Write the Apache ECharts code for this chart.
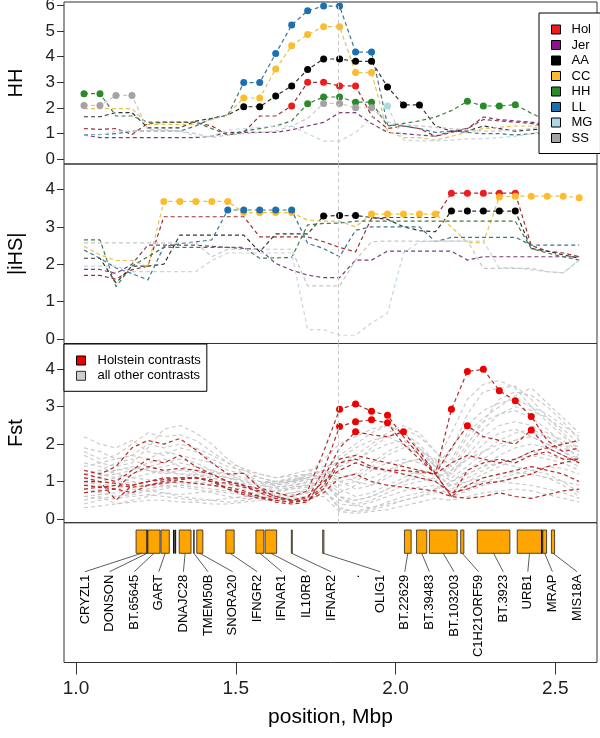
<!DOCTYPE html>
<html><head><meta charset="utf-8">
<script src="https://cdn.jsdelivr.net/npm/echarts@6/dist/echarts.min.js"></script>
<style>html,body{margin:0;padding:0;background:#fff}#c{width:600px;height:738px}</style>
</head><body><div id="c"></div>
<script>
// ---------- window centres (Mbp) ----------
const positions = [1.025,1.075,1.125,1.175,1.225,1.275,1.325,1.375,1.425,1.475,1.525,1.575,1.625,1.675,1.725,1.775,1.825,1.875,1.925,1.975,2.025,2.075,2.125,2.175,2.225,2.275,2.325,2.375,2.425,2.475,2.525,2.575];
const focusPos = 1.818;

// ---------- HH panel ----------
const hhHol = [1.2,1.17,1.2,0.97,1.4,1.44,1.44,1.44,1.3,0.95,1.05,1.69,1.69,2.08,3.0,3.0,2.86,2.86,1.7,1.2,1.3,1.2,0.9,1.1,1.2,1.55,1.5,1.45,1.4,1.3,1.35,1.3];
const hhJer = [0.95,0.85,0.85,0.85,0.85,0.85,0.85,0.85,0.9,1.05,1.05,1.05,1.05,1.15,1.3,1.44,1.82,1.82,1.4,1.05,1.0,0.95,0.9,1.05,1.2,1.65,1.55,1.5,1.45,1.35,1.3,1.25];
const hhAA  = [1.66,1.66,1.82,1.82,1.23,1.23,1.23,1.49,1.6,1.73,2.05,2.05,2.47,2.86,3.5,3.91,3.91,3.82,3.82,2.82,2.12,2.12,1.3,1.1,1.1,1.3,1.2,1.1,1.15,1.2,1.3,1.35];
const hhCC  = [1.98,1.98,1.98,1.98,1.36,1.36,1.36,1.36,1.55,1.75,2.39,2.39,3.52,4.43,4.86,5.17,5.17,3.38,3.38,1.1,0.85,0.85,0.75,0.9,1.05,1.2,1.25,1.3,1.3,1.35,1.3,1.3];
const hhHH  = [2.56,2.56,1.69,1.69,1.45,1.45,1.45,1.45,1.2,0.95,1.1,1.2,1.3,1.5,2.17,2.43,2.43,2.23,2.23,1.3,1.4,1.5,1.65,1.9,2.26,2.08,2.08,2.13,1.8,1.5,1.4,1.4];
const hhLL  = [0.97,0.97,1.0,1.1,1.1,1.1,1.1,1.3,1.6,1.72,2.99,2.99,4.12,5.23,5.79,5.97,5.97,4.18,4.18,1.35,1.3,1.2,1.05,1.1,1.05,1.0,1.0,0.95,1.0,1.05,1.1,1.15];
const hhMG  = [0.95,0.95,1.1,1.1,1.1,1.1,1.1,0.9,0.9,1.15,1.2,1.25,1.3,1.3,1.0,0.71,0.71,1.05,1.6,2.08,0.75,0.72,0.72,0.75,0.8,0.8,0.85,0.9,1.0,1.1,1.2,1.25];
const hhSS  = [2.1,2.1,2.49,2.49,1.15,1.15,1.1,1.0,0.85,0.95,1.0,1.05,1.1,1.3,1.6,2.18,2.18,2.01,2.01,1.45,1.35,1.3,1.25,1.2,1.15,1.1,1.1,1.15,1.2,1.3,1.35,1.4];
const hhSigHol = [13,14,15,16,17];
const hhSigJer = [];
const hhSigAA  = [10,11,12,13,14,15,16,17,18,19,20,21];
const hhSigCC  = [10,11,12,13,14,15,16,17,18];
const hhSigHH  = [0,1,14,15,16,17,18,24,25,26,27];
const hhSigLL  = [10,11,12,13,14,15,16,17,18];
const hhSigMG  = [19];
const hhSigSS  = [0,1,2,3,15,16,17,18];

// ---------- |iHS| panel ----------
const ihsHol = [1.7,1.7,1.6,1.85,1.95,3.27,3.27,3.27,3.27,3.27,3.27,2.73,2.73,2.73,2.73,2.6,2.45,2.33,3.23,3.25,3.25,3.25,3.25,3.9,3.9,3.9,3.9,3.9,2.5,2.35,2.3,2.2];
const ihsJer = [1.86,1.86,1.75,2.0,2.51,2.51,2.51,2.51,2.48,2.45,2.42,2.4,2.02,1.84,1.71,1.64,1.64,2.11,2.11,2.35,2.35,2.35,2.35,2.35,2.11,2.2,2.2,2.2,2.2,2.2,2.2,2.2];
const ihsAA  = [2.16,2.16,1.5,1.95,1.95,2.0,2.78,2.78,2.78,2.78,2.78,2.33,2.81,2.81,2.81,3.29,3.3,3.3,3.25,3.2,3.0,2.9,2.87,3.42,3.42,3.42,3.42,3.42,2.42,2.35,2.25,2.16];
const ihsCC  = [2.48,2.25,2.1,2.1,1.93,3.68,3.68,3.68,3.68,3.68,3.38,3.38,3.38,3.38,3.18,3.15,3.15,3.0,3.34,3.34,3.34,3.34,3.34,3.0,2.58,2.58,3.8,3.82,3.82,3.82,3.82,3.78];
const ihsHH  = [2.65,2.65,1.4,1.95,2.2,2.45,2.45,2.45,2.45,2.45,2.45,2.16,2.17,2.18,3.05,3.09,3.1,3.15,3.15,3.15,3.15,3.15,3.15,3.15,3.15,3.15,3.15,3.15,2.42,2.3,2.2,2.11];
const ihsLL  = [2.38,2.16,1.9,1.75,1.58,2.47,2.55,2.6,2.65,3.45,3.45,3.45,3.45,3.45,2.56,2.42,2.2,2.91,3.0,3.0,3.0,3.0,2.6,2.72,2.72,2.72,2.72,2.72,2.51,2.51,2.51,2.51];
const ihsMG  = [1.95,1.95,1.95,1.8,1.8,1.8,1.8,1.8,2.1,2.3,2.3,2.3,2.3,2.3,0.25,0.25,0.1,0.1,0.43,0.69,2.3,2.6,2.62,2.62,2.62,2.62,1.9,1.9,1.85,1.8,1.77,2.11];
const ihsSS  = [2.57,2.57,2.57,2.57,2.57,2.57,2.57,2.57,2.2,2.4,2.4,2.4,2.4,2.4,1.42,1.42,1.42,2.11,2.6,2.62,2.62,2.62,2.62,2.62,2.62,1.89,1.89,1.89,1.89,1.8,1.77,2.11];
const ihsSigHol = [23,24,25,26,27];
const ihsSigJer = [];
const ihsSigAA  = [15,16,17,23,24,25,26,27];
const ihsSigCC  = [5,6,7,8,9,10,11,12,13,18,19,20,21,22,26,27,28,29,30,31];
const ihsSigHH  = [];
const ihsSigLL  = [9,10,11,12,13];
const ihsSigMG  = [];
const ihsSigSS  = [];

// ---------- Fst panel: Holstein contrasts ----------
const fstHol1 = [1.3,1.2,1.4,1.9,2.1,2.0,2.15,1.85,1.5,1.2,1.22,0.83,0.7,0.6,0.75,1.8,2.93,3.07,2.88,2.77,2.2,1.7,1.2,2.93,3.94,4.0,3.43,3.16,2.74,2.1,1.8,1.9];
const fstHol2 = [0.9,0.85,0.8,1.2,1.4,1.3,1.35,1.3,1.2,1.0,0.9,0.8,0.6,0.5,0.55,1.3,2.47,2.6,2.65,2.57,2.0,1.6,1.2,1.9,2.49,2.2,2.1,2.0,2.38,1.9,1.7,1.5];
const fstHol3 = [1.0,1.0,0.95,0.9,1.0,1.05,1.1,1.1,1.05,0.8,0.7,0.6,0.45,0.4,0.45,1.1,1.9,2.33,2.25,2.2,2.33,1.8,1.22,0.6,1.3,1.5,1.6,1.5,1.7,1.8,1.6,1.6];
const fstHol4 = [1.1,1.0,0.5,0.9,1.0,1.1,1.1,1.1,1.0,0.95,0.85,0.75,0.6,0.5,0.5,0.9,1.6,1.7,1.6,1.5,1.4,1.3,1.2,1.5,1.7,1.6,1.5,1.6,1.8,1.9,2.0,2.1];
const fstHol5 = [0.8,0.85,0.9,0.85,0.9,1.0,1.05,1.1,1.0,0.8,0.65,0.55,0.5,0.45,0.5,0.8,1.5,1.6,1.4,1.3,1.3,1.25,1.2,0.6,0.9,1.1,1.2,1.3,1.4,1.3,1.2,1.0];
const fstHol6 = [1.2,1.1,1.0,1.3,1.6,1.5,1.7,1.4,1.2,1.0,0.9,0.7,0.55,0.5,0.6,1.0,1.3,1.5,1.35,1.3,1.2,1.1,1.0,0.7,0.8,0.95,1.0,1.1,1.2,1.4,1.5,1.6];
const fstHol7 = [0.7,0.75,0.8,0.7,0.9,0.95,1.0,0.95,0.9,0.85,0.75,0.6,0.5,0.45,0.5,0.7,1.1,1.2,1.0,0.9,0.85,0.8,0.75,0.6,0.55,0.6,0.7,0.6,0.55,0.65,0.75,0.8];
const fstSig1 = [16,17,18,19,23,24,25,26,27,28];
const fstSig2 = [16,17,18,19,24,28];
const fstSig3 = [17,20];

// ---------- Fst panel: all other contrasts ----------
const fstOther1  = [1.8,1.6,1.7,2.0,2.3,2.2,2.25,2.1,1.8,1.5,1.2,1.0,0.9,1.0,1.2,1.6,2.0,2.2,2.4,2.5,2.3,2.0,1.5,2.3,3.2,3.6,3.7,3.5,3.0,2.6,2.2,1.9];
const fstOther2  = [1.2,1.3,1.5,1.6,1.4,1.5,1.6,1.5,1.3,1.1,0.9,0.8,0.85,0.9,1.0,1.2,1.6,1.9,2.1,2.2,2.0,1.7,1.3,1.8,2.8,3.4,3.5,3.55,3.2,2.7,2.3,1.8];
const fstOther3  = [0.5,0.6,0.4,0.5,0.6,0.7,0.6,0.55,0.5,0.45,0.5,0.55,0.6,0.7,0.8,0.9,0.6,0.35,0.3,0.4,0.5,0.6,0.8,1.0,1.2,1.4,1.5,1.4,1.3,1.2,1.0,0.7];
const fstOther4  = [1.0,0.9,0.95,1.1,1.2,1.3,1.2,1.15,1.1,1.0,0.95,0.9,0.95,1.0,1.1,1.3,1.2,1.0,0.9,1.1,1.3,1.2,1.0,1.5,2.2,2.6,2.8,2.9,2.7,2.4,2.0,1.6];
const fstOther5  = [0.8,0.7,0.6,0.65,0.75,0.8,0.9,0.85,0.8,0.75,0.7,0.7,0.75,0.85,0.9,1.0,0.5,0.4,0.5,0.7,0.9,1.0,1.1,1.3,1.6,1.8,2.0,2.1,2.2,2.0,1.8,1.5];
const fstOther6  = [1.5,1.4,1.2,1.3,1.5,1.6,1.4,1.3,1.25,1.2,1.1,1.0,0.95,1.0,1.1,1.2,1.4,1.6,1.8,2.0,2.1,1.8,1.4,1.2,1.7,2.2,2.5,2.6,2.5,2.3,2.1,1.8];
const fstOther7  = [0.6,0.65,0.7,0.8,0.75,0.7,0.65,0.7,0.75,0.7,0.65,0.6,0.65,0.7,0.75,0.8,0.3,0.2,0.3,0.45,0.6,0.7,0.8,0.9,1.0,1.1,1.2,1.25,1.2,1.1,0.9,0.6];
const fstOther8  = [1.3,1.2,1.1,1.2,1.35,1.4,1.5,1.4,1.3,1.2,1.0,0.95,1.0,1.1,1.2,1.3,1.0,0.8,0.9,1.2,1.5,1.6,1.4,1.9,2.5,2.9,3.1,3.2,3.0,2.8,2.5,2.2];
const fstOther9  = [2.2,2.0,1.9,2.1,1.8,1.7,1.9,1.8,1.6,1.4,1.3,1.2,1.1,1.15,1.2,1.3,1.1,1.2,1.5,1.8,2.0,1.9,1.5,1.1,1.4,1.8,2.1,2.3,2.4,2.2,1.9,1.7];
const fstOther10 = [0.9,1.0,1.1,1.0,0.9,1.0,1.1,1.2,1.1,1.0,0.9,0.8,0.8,0.85,0.9,1.1,0.8,0.6,0.7,0.9,1.1,1.3,1.2,0.9,1.1,1.3,1.5,1.6,1.7,1.6,1.5,1.3];
const fstOther11 = [0.4,0.5,0.55,0.6,0.65,0.6,0.55,0.5,0.5,0.55,0.6,0.6,0.55,0.6,0.7,0.8,0.25,0.2,0.25,0.35,0.5,0.6,0.7,0.75,0.9,1.0,1.0,0.95,0.9,0.8,0.7,0.55];
const fstOther12 = [1.7,1.5,1.4,1.5,1.9,2.4,2.5,2.3,2.0,1.6,1.3,1.1,1.0,1.05,1.15,1.3,1.7,2.0,2.3,2.5,2.3,1.9,1.4,1.6,2.3,2.7,3.0,3.3,3.5,3.1,2.7,2.3];
const fstOther13 = [1.1,1.15,1.2,1.1,1.05,1.0,0.95,1.0,0.95,0.9,0.85,0.85,0.9,0.95,1.05,1.15,0.9,1.0,1.3,1.5,1.6,1.5,1.3,1.0,1.2,1.4,1.7,1.9,2.0,1.9,1.7,1.5];
const fstOther14 = [0.7,0.8,0.9,1.0,0.9,0.85,0.9,0.95,0.9,0.8,0.7,0.65,0.7,0.8,0.85,0.95,0.5,0.5,0.6,0.8,1.0,1.1,1.0,0.7,0.8,1.0,1.1,1.2,1.3,1.4,1.35,1.2];
const fstOther15 = [1.4,1.5,1.6,1.7,1.6,1.8,1.7,1.6,1.5,1.3,1.2,1.1,1.0,1.0,1.05,1.1,1.3,1.5,1.9,2.2,2.4,2.2,1.8,1.3,1.9,2.4,2.8,3.0,2.9,2.7,2.4,2.0];
const fstOther16 = [0.6,0.55,0.6,0.7,0.8,0.9,0.85,0.8,0.7,0.6,0.55,0.55,0.6,0.65,0.7,0.75,0.4,0.35,0.45,0.6,0.75,0.85,0.9,0.6,0.75,0.9,1.0,1.1,1.2,1.1,1.0,0.9];
const fstOther17 = [1.0,1.1,1.3,1.4,1.3,1.2,1.3,1.25,1.2,1.1,1.0,0.9,0.85,0.9,0.95,1.05,0.7,0.9,1.1,1.3,1.5,1.6,1.5,1.2,1.6,2.0,2.3,2.4,2.2,2.0,1.8,1.6];
const fstOther18 = [0.3,0.35,0.4,0.45,0.5,0.5,0.45,0.45,0.4,0.4,0.45,0.5,0.5,0.55,0.6,0.6,0.2,0.15,0.2,0.25,0.35,0.45,0.55,0.5,0.6,0.7,0.75,0.8,0.75,0.65,0.55,0.45];
const fstOther19 = [1.9,1.8,1.6,1.7,2.0,1.9,2.0,1.9,1.7,1.5,1.35,1.2,1.1,1.2,1.3,1.4,1.5,1.7,2.0,2.3,2.5,2.3,1.8,1.4,2.0,2.6,3.2,3.4,3.3,3.0,2.6,2.1];
const fstOther20 = [0.9,0.85,0.8,0.9,1.0,1.1,1.0,0.95,0.9,0.85,0.8,0.75,0.75,0.8,0.9,1.0,0.6,0.5,0.6,0.8,1.0,1.2,1.3,0.8,1.0,1.2,1.4,1.6,1.8,1.7,1.6,1.4];
const fstOther21 = [1.2,1.25,1.3,1.35,1.3,1.25,1.2,1.2,1.15,1.1,1.05,1.0,1.0,1.05,1.1,1.2,1.0,1.1,1.4,1.7,1.9,1.8,1.6,1.0,1.3,1.6,1.9,2.1,2.3,2.2,2.0,1.8];

// ---------- genes ----------
const geneLabels = ['CRYZL1','DONSON','BT.65645','GART','DNAJC28','TMEM50B','SNORA20','IFNGR2','IFNAR1','IL10RB','IFNAR2','.','OLIG1','BT.22629','BT.39483','BT.103203','C1H21ORF59','BT.3923','URB1','MRAP','MIS18A'];
const geneStart = [1.188,1.221,1.225,1.266,1.323,1.368,1.378,1.469,1.563,1.592,1.674,null,1.772,2.028,2.066,2.106,2.204,2.256,2.381,2.461,2.488];
const geneEnd   = [1.223,1.224,1.263,1.292,1.360,1.370,1.397,1.495,1.588,1.628,1.677,null,1.776,2.049,2.098,2.193,2.214,2.358,2.458,2.473,2.498];
const extraGeneStart = [1.305,1.310,2.457];
const extraGeneEnd   = [1.306,1.311,2.459];

// ---------- tick labels ----------
const xTicks = [1.0,1.5,2.0,2.5];
const hhTicks = [0,1,2,3,4,5,6];
const ihsTicks = [0,1,2,3,4];
const fstTicks = [0,1,2,3,4];

// ---------- styling ----------
const FONT = "'Liberation Sans', Arial, sans-serif";
const pops = ['Hol','Jer','AA','CC','HH','LL','MG','SS'];
const pointColors = ['#ee1c1c','#8b138b','#000000','#fbbd2e','#2a8a2a','#1a70b0','#add8e6','#a3a3a3'];
const lineColors  = ['#9b3030','#7a3c7a','#333333','#e6c24e','#3f7f45','#3a7790','#c2d8e2','#c6c6c6'];
const X0 = 0.9624, X1 = 2.6307;

const hhLines = [hhHol,hhJer,hhAA,hhCC,hhHH,hhLL,hhMG,hhSS];
const hhSigs  = [hhSigHol,hhSigJer,hhSigAA,hhSigCC,hhSigHH,hhSigLL,hhSigMG,hhSigSS];
const ihsLines = [ihsHol,ihsJer,ihsAA,ihsCC,ihsHH,ihsLL,ihsMG,ihsSS];
const ihsSigs  = [ihsSigHol,ihsSigJer,ihsSigAA,ihsSigCC,ihsSigHH,ihsSigLL,ihsSigMG,ihsSigSS];
const fstHolLines = [fstHol1,fstHol2,fstHol3,fstHol4,fstHol5,fstHol6,fstHol7];
const fstHolSigs = [fstSig1,fstSig2,fstSig3,[],[],[],[]];
const fstOtherLines = [fstOther1,fstOther2,fstOther3,fstOther4,fstOther5,fstOther6,fstOther7,fstOther8,fstOther9,fstOther10,fstOther11,fstOther12,fstOther13,fstOther14,fstOther15,fstOther16,fstOther17,fstOther18,fstOther19,fstOther20,fstOther21];

const series = [];
const refLine = {silent:true, symbol:'none', animation:false, label:{show:false},
  lineStyle:{type:[4,3], color:'#c8c8c8', width:1}, data:[{xAxis:focusPos}]};

function lineSeries(panel, vals, color, width, name, withRef){
  const s = {type:'line', name:name, xAxisIndex:panel, yAxisIndex:panel, symbol:'none', silent:true,
    data: positions.map((x,i)=>[x, vals[i]]),
    lineStyle:{color:color, width:width, type:[4,3]}, itemStyle:{color:color}, animation:false, z:2};
  if (withRef) s.markLine = refLine;
  return s;
}
function pointSeries(panel, vals, sig, color, name){
  return {type:'scatter', name:name, xAxisIndex:panel, yAxisIndex:panel, symbol:'circle', symbolSize:7,
    data: sig.map(i=>[positions[i], vals[i]]), itemStyle:{color:color, borderWidth:0, opacity:1},
    silent:true, animation:false, z:2};
}

// HH and iHS panels
[[0,hhLines,hhSigs],[1,ihsLines,ihsSigs]].forEach(([p,lines,sigs])=>{
  pops.forEach((name,j)=>{
    series.push(lineSeries(p, lines[j], lineColors[j], 1.2, name+'_line'+p, j===0));
    series.push(pointSeries(p, lines[j], sigs[j], pointColors[j], name));
  });
});
// Fst panel
fstOtherLines.forEach((v,j)=>series.push(lineSeries(2, v, '#c8c8c8', 1.1, 'other_'+j, j===0)));
series.push({type:'scatter', name:'all other contrasts', xAxisIndex:2, yAxisIndex:2, data:[], itemStyle:{color:'#c0c0c0'}});
fstHolLines.forEach((v,j)=>{
  series.push(lineSeries(2, v, '#b52a2a', 1.2, 'hol_'+j, false));
  series.push(pointSeries(2, v, fstHolSigs[j], '#ee0000', 'Holstein contrasts'));
});

// gene panel
function geneRender(params, api){
  const i = params.dataIndex;
  const cs = params.coordSys;
  const top = cs.y + 7.3, bot = cs.y + 30.6;
  const lx = cs.x + 21 + 24.6 * i;
  const ch = [];
  const s = geneStart[i], e = geneEnd[i];
  if (s !== null) {
    const x1 = api.coord([s, 0.5])[0], x2 = api.coord([e, 0.5])[0];
    ch.push({type:'rect', shape:{x:x1, y:top, width:Math.max(x2-x1,0.6), height:bot-top},
      style:{fill:'#FFA500', stroke:'#222', lineWidth:0.8}});
    ch.push({type:'line', shape:{x1:(x1+x2)/2, y1:bot, x2:lx, y2:cs.y+49},
      style:{stroke:'#333', lineWidth:0.8}});
  }
  ch.push({type:'text', x:lx, y:cs.y+52, rotation:Math.PI/2,
    style:{text:geneLabels[i], align:'right', textAlign:'right', verticalAlign:'middle', textVerticalAlign:'middle',
      font:'13px ' + FONT, fill:'#000'}});
  return {type:'group', children:ch};
}
series.push({type:'custom', xAxisIndex:3, yAxisIndex:3, silent:true, animation:false,
  data: geneLabels.map((n,i)=>[geneStart[i]===null ? focusPos : geneStart[i], 0.5]),
  encode:{x:0, y:1}, renderItem: geneRender});
series.push({type:'custom', xAxisIndex:3, yAxisIndex:3, silent:true, animation:false,
  data: extraGeneStart.map((s,i)=>[s, 0.5]), encode:{x:0, y:1},
  renderItem:(params, api)=>{
    const cs = params.coordSys, i = params.dataIndex;
    const x1 = api.coord([extraGeneStart[i],0.5])[0], x2 = api.coord([extraGeneEnd[i],0.5])[0];
    return {type:'rect', shape:{x:x1, y:cs.y+7.3, width:Math.max(x2-x1,0.6), height:23.3},
      style:{fill:'#FFA500', stroke:'#111', lineWidth:1}};
  }});

const gridBase = {left:64, width:533, show:true, borderColor:'#333', borderWidth:1, backgroundColor:'transparent', containLabel:false, outerBoundsMode:'none'};
const grids = [
  Object.assign({top:2, height:162}, gridBase),
  Object.assign({top:164, height:179.5}, gridBase),
  Object.assign({top:343.5, height:179.2}, gridBase),
  Object.assign({top:522.7, height:139.8}, gridBase)
];

function yAx(idx, min, max, ticks, name){
  return {type:'value', gridIndex:idx, min:min, max:max, name:name, nameLocation:'middle', nameGap:38, nameRotate:90,
    nameTextStyle:{fontSize:20, fontFamily:FONT, color:'#000'},
    axisLine:{show:false}, splitLine:{show:false},
    axisTick:{show:true, inside:false, length:7, customValues:ticks, lineStyle:{color:'#333'}},
    axisLabel:{show:true, customValues:ticks, fontSize:17, fontFamily:FONT, color:'#222', margin:9}};
}
const yAxes = [
  yAx(0, -0.18, 6.13, hhTicks, 'HH'),
  yAx(1, -0.12, 4.68, ihsTicks, '|iHS|'),
  yAx(2, -0.1, 4.69, fstTicks, 'Fst'),
  {type:'value', gridIndex:3, min:0, max:1, show:false}
];
const xAxes = [0,1,2].map(i=>({type:'value', gridIndex:i, min:X0, max:X1, show:false}));
xAxes.push({type:'value', gridIndex:3, min:X0, max:X1, name:'position, Mbp', nameLocation:'middle', nameGap:44,
  nameTextStyle:{fontSize:21, fontFamily:FONT, color:'#000'},
  axisLine:{show:false}, splitLine:{show:false},
  axisTick:{show:true, inside:false, length:12, customValues:xTicks, lineStyle:{color:'#333'}},
  axisLabel:{show:true, customValues:xTicks, fontSize:19, fontFamily:FONT, color:'#222', margin:17,
    formatter:v=>Number(v).toFixed(1)}});

const option = {
  animation:false,
  backgroundColor:'#fff',
  grid: grids,
  xAxis: xAxes,
  yAxis: yAxes,
  legend: [
    {data:pops, orient:'vertical', left:539, top:13, icon:'rect', itemWidth:9, itemHeight:9, itemGap:2.5,
     padding:[10,8,9,12], borderColor:'#000', borderWidth:1, backgroundColor:'#fff', selectedMode:false,
     itemStyle:{borderColor:'#000', borderWidth:1},
     textStyle:{fontSize:13, lineHeight:13, fontFamily:FONT, color:'#000', padding:[0,0,0,6]}},
    {data:['Holstein contrasts','all other contrasts'], orient:'vertical', left:64, top:344, icon:'rect',
     itemWidth:9, itemHeight:9, itemGap:2.3, padding:[10,6,9,12], borderColor:'#000', borderWidth:1,
     backgroundColor:'#fff', selectedMode:false, itemStyle:{borderColor:'#000', borderWidth:1},
     textStyle:{fontSize:13, lineHeight:13, fontFamily:FONT, color:'#000', padding:[0,0,0,7]}}
  ],
  series: series
};
const chart = echarts.init(document.getElementById('c'));
chart.setOption(option);
</script></body></html>
